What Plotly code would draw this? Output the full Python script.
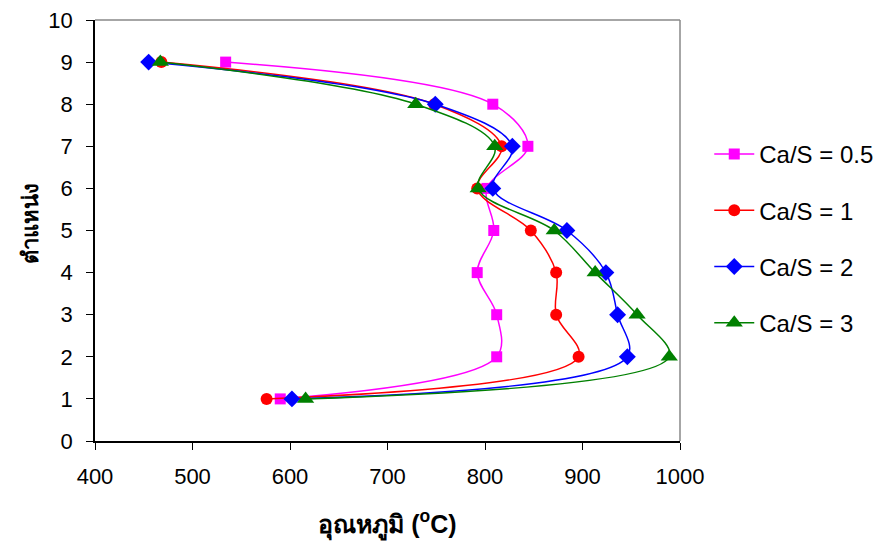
import plotly.graph_objects as go

positions = [1, 2, 3, 4, 5, 6, 7, 8, 9]
temp_cas_05 = [590, 812, 812, 792, 809, 802, 844, 808, 534]
temp_cas_1 = [576, 896, 873, 873, 847, 792, 817, 748, 468]
temp_cas_2 = [602, 946, 936, 924, 884, 808, 828, 749, 455]
temp_cas_3 = [616, 989, 956, 913, 871, 793, 810, 729, 467]

series_names = ["Ca/S = 0.5", "Ca/S = 1", "Ca/S = 2", "Ca/S = 3"]
series_vals = [temp_cas_05, temp_cas_1, temp_cas_2, temp_cas_3]
colors = ["#FF00FF", "#FF0000", "#0000FF", "#008000"]
symbols = ["square", "circle", "diamond", "triangle-up"]
sizes = [11, 12, 13, 15]

fig = go.Figure()
for i, (name, vals) in enumerate(zip(series_names, series_vals)):
    fig.add_trace(go.Scatter(
        x=vals, y=positions, name=name, mode="lines+markers",
        line=dict(color=colors[i], width=1.5, shape="spline", smoothing=1.0),
        marker=dict(symbol=symbols[i], size=sizes[i], color=colors[i]),
        legendgroup=name,
    ))

font_fam = "Liberation Sans, Arial, sans-serif"
fig.update_layout(
    width=879, height=541,
    margin=dict(l=95, r=199, t=20, b=100, autoexpand=False),
    paper_bgcolor="white", plot_bgcolor="white",
    font=dict(family=font_fam, size=22, color="black"),
    showlegend=True,
    legend=dict(x=1.05, y=0.734, xanchor="left", yanchor="top",
                font=dict(size=24), tracegroupgap=22, itemwidth=40,
                bgcolor="rgba(0,0,0,0)"),
    xaxis=dict(range=[400, 1000], dtick=100, showgrid=False, zeroline=False,
               showline=True, linecolor="black", linewidth=1.5,
               ticks="outside", ticklen=7, tickcolor="black",
               ticklabelstandoff=8, automargin=False,
               title=dict(text="<b>อุณหภูมิ (<sup>o</sup>C)</b>", font=dict(size=25), standoff=27)),
    yaxis=dict(range=[0, 10], dtick=1, showgrid=False, zeroline=False,
               showline=True, linecolor="black", linewidth=1.5,
               ticks="outside", ticklen=7, tickcolor="black",
               ticklabelstandoff=9, automargin=False),
    annotations=[
        dict(text="<b>ตำแหน่ง</b>", xref="paper", yref="paper",
             x=-0.111, y=0.515, xanchor="center", yanchor="middle",
             textangle=-90, showarrow=False, font=dict(size=22)),
    ],
    shapes=[
        dict(type="line", xref="paper", yref="paper", x0=0, x1=1, y0=1, y1=1,
             line=dict(color="#888888", width=1.5)),
        dict(type="line", xref="paper", yref="paper", x0=1, x1=1, y0=0, y1=1,
             line=dict(color="#888888", width=1.5)),
    ],
)

fig.write_html("out.html", config={"displayModeBar": False},
               post_script="document.body.style.margin='0';")
